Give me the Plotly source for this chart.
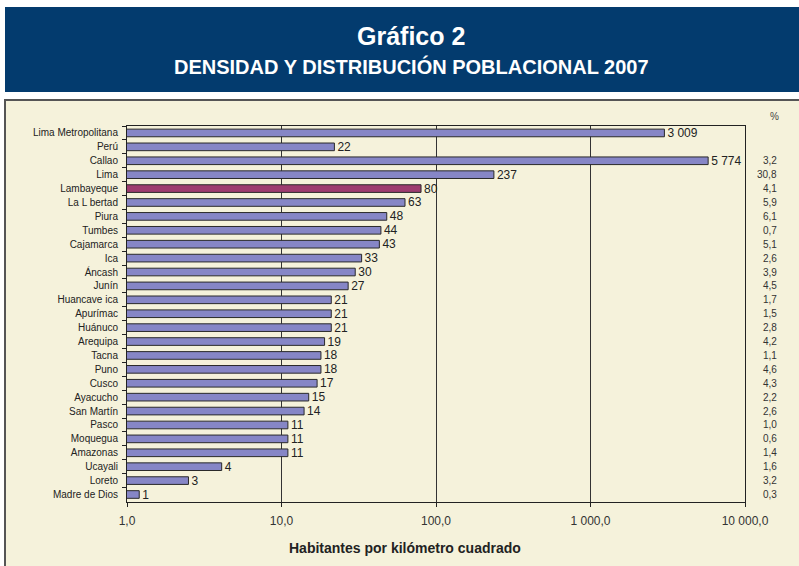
import plotly.graph_objects as go

# ---- data ----
regions = ["Lima Metropolitana", "Perú", "Callao", "Lima", "Lambayeque", "La L bertad",
           "Piura", "Tumbes", "Cajamarca", "Ica", "Áncash", "Junín", "Huancave ica",
           "Apurímac", "Huánuco", "Arequipa", "Tacna", "Puno", "Cusco", "Ayacucho",
           "San Martín", "Pasco", "Moquegua", "Amazonas", "Ucayali", "Loreto", "Madre de Dios"]
density = [3009, 22, 5774, 237, 80, 63, 48, 44, 43, 33, 30, 27, 21, 21, 21, 19, 18, 18,
           17, 15, 14, 11, 11, 11, 4.1, 2.5, 1.2]
density_labels = ["3 009", "22", "5 774", "237", "80", "63", "48", "44", "43", "33", "30",
                  "27", "21", "21", "21", "19", "18", "18", "17", "15", "14", "11", "11",
                  "11", "4", "3", "1"]
percent = [None, None, "3,2", "30,8", "4,1", "5,9", "6,1", "0,7", "5,1", "2,6", "3,9",
           "4,5", "1,7", "1,5", "2,8", "4,2", "1,1", "4,6", "4,3", "2,2", "2,6", "1,0",
           "0,6", "1,4", "1,6", "3,2", "0,3"]
tick_vals = [1, 10, 100, 1000, 10000]
tick_text = ["1,0", "10,0", "100,0", "1 000,0", "10 000,0"]
highlight = "Lambayeque"

# ---- layout geometry (pixels) ----
W, H = 799, 566
L, R, T, B = 127, 745, 126, 502
PW, PH = R - L, B - T


def xp(px):
    return (px - L) / PW


def yp(py):
    return (B - py) / PH


CREAM = "#F5F2DB"
NAVY = "#033B6E"
SANS = "Liberation Sans, Arial, sans-serif"

colors = ["#9E3B70" if r == highlight else "#8686C6" for r in regions]

fig = go.Figure(go.Bar(
    x=density, y=regions, orientation="h",
    marker=dict(color=colors, line=dict(color="#2A2A2A", width=1)),
    width=0.55,
    text=density_labels, textposition="outside", constraintext="none",
    textfont=dict(family=SANS, size=12, color="#222222"),
    cliponaxis=False, hoverinfo="x+y",
))

annotations = []
for i, p in enumerate(percent):
    if p is None:
        continue
    annotations.append(dict(x=xp(779), y=i, xref="paper", yref="y", text=p,
                            showarrow=False, xanchor="right", yanchor="middle",
                            font=dict(family=SANS, size=10, color="#333333")))
annotations += [
    dict(x=xp(774), y=yp(117), xref="paper", yref="paper", text="%", showarrow=False,
         xanchor="center", yanchor="middle", font=dict(family=SANS, size=10, color="#444444")),
    dict(x=xp(411), y=yp(36), xref="paper", yref="paper", text="<b>Gráfico 2</b>",
         showarrow=False, xanchor="center", yanchor="middle",
         font=dict(family=SANS, size=25, color="white")),
    dict(x=xp(411), y=yp(66), xref="paper", yref="paper",
         text="<b>DENSIDAD Y DISTRIBUCIÓN POBLACIONAL 2007</b>",
         showarrow=False, xanchor="center", yanchor="middle",
         font=dict(family=SANS, size=20, color="white")),
    dict(x=xp(405), y=yp(548), xref="paper", yref="paper",
         text="<b>Habitantes por kilómetro cuadrado</b>",
         showarrow=False, xanchor="center", yanchor="middle",
         font=dict(family=SANS, size=14, color="#222222")),
]

shapes = [
    dict(type="rect", xref="paper", yref="paper", layer="below",
         x0=xp(5), x1=xp(805), y0=yp(100), y1=yp(575),
         fillcolor=CREAM, line=dict(color="#555555", width=2)),
    dict(type="rect", xref="paper", yref="paper", layer="below",
         x0=xp(5), x1=xp(805), y0=yp(7), y1=yp(92),
         fillcolor=NAVY, line=dict(width=0)),
]

fig.update_layout(
    width=W, height=H,
    margin=dict(l=L, r=W - R, t=T, b=H - B, pad=0),
    paper_bgcolor="white", plot_bgcolor="rgba(0,0,0,0)",
    showlegend=False, bargap=0.45,
    annotations=annotations, shapes=shapes,
    xaxis=dict(type="log", range=[0, 4], tickvals=tick_vals, ticktext=tick_text,
               showgrid=True, gridcolor="#333333", gridwidth=1,
               showline=True, linecolor="#222222", linewidth=1, mirror=True,
               ticks="outside", ticklen=4, tickcolor="#222222", ticklabelstandoff=4,
               tickfont=dict(family=SANS, size=12, color="#333333"), zeroline=False),
    yaxis=dict(type="category", autorange="reversed", showgrid=False,
               showline=True, linecolor="#222222", linewidth=1, mirror=True,
               ticks="outside", ticklen=4, tickcolor="#222222", tickson="boundaries",
               ticklabelstandoff=6,
               tickfont=dict(family=SANS, size=10, color="#222222")),
)

fig.write_html("out.html", config={"displayModeBar": False},
               post_script="document.body.style.margin='0';")
